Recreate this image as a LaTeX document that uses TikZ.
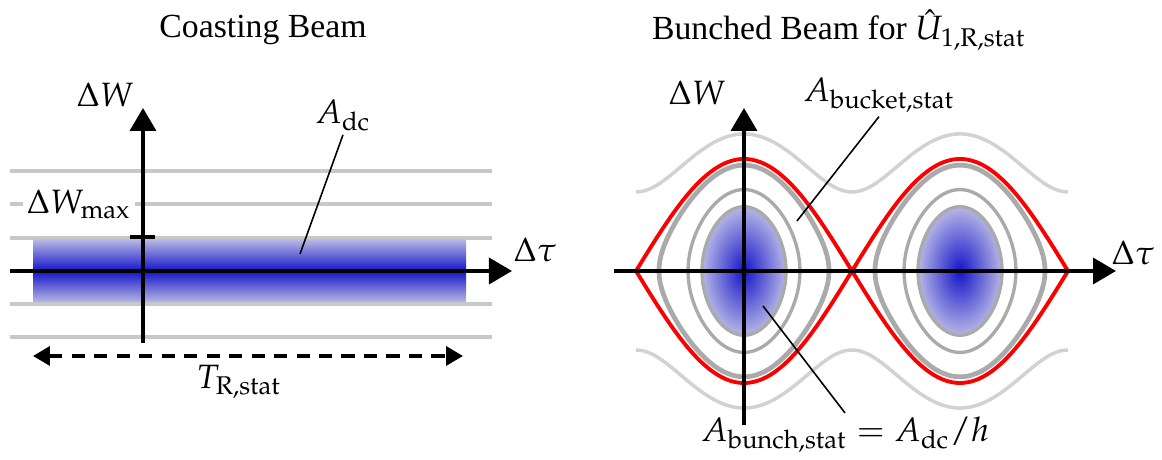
\documentclass[tikz,border=0pt]{standalone}
\usepackage{mathpazo}
\usepackage[no-math]{fontspec}
\newfontfamily\titlefont{Liberation Serif}
\usepackage{tikz}
\usetikzlibrary{arrows.meta}
\definecolor{BeamBlue}{RGB}{20,20,200}
\definecolor{BeamPale}{RGB}{182,182,230}
\definecolor{SepRed}{RGB}{250,0,0}
\definecolor{OrbitGray}{RGB}{170,170,170}
\definecolor{FlowGray}{RGB}{210,210,210}
\definecolor{LevelGray}{RGB}{200,200,200}
\tikzset{
  axis/.style={draw=black,line width=1.05pt,-{Triangle[length=0.23cm,width=0.26cm]}},
  level/.style={draw=LevelGray,line width=1pt},
  orbit/.style={draw=OrbitGray,line width=0.95pt,samples=120,domain=0:360,variable=\t},
  flow/.style={draw=FlowGray,line width=1pt,samples=160},
  sep/.style={draw=SepRed,line width=1.1pt,samples=200},
  lead/.style={draw=black,line width=0.45pt},
  lbl/.style={inner sep=1pt,font=\fontsize{9.6}{11}\selectfont},
  ttl/.style={inner sep=1pt,font=\fontsize{9.6}{11}\selectfont\titlefont},
}
\tikzset{bunch/.style={inner color=BeamBlue,outer color=BeamPale},
  band/.style={top color=BeamPale,bottom color=BeamPale,middle color=BeamBlue}}

\begin{document}
\begin{tikzpicture}[scale=1]
\useasboundingbox (0,0) rectangle (11.62,4.60);
% coasting beam
\node[ttl] (tcoast) at (2.63,4.30) {Coasting Beam};
\draw[level] (0.10,2.89) -- (4.92,2.89);
\draw[level] (0.10,2.56) -- (4.92,2.56);
\draw[level] (0.10,2.22) -- (4.92,2.22);
\draw[level] (0.10,1.56) -- (4.92,1.56);
\draw[level] (0.10,1.23) -- (4.92,1.23);
\shade[band] (0.33,1.58) rectangle (4.66,2.20);
\coordinate (lw0) at (1.43,1.17);
\coordinate (lw1) at (1.43,3.52);
\coordinate (lt0) at (0.10,1.89);
\coordinate (lt1) at (5.12,1.89);
\draw[axis] (lt0) -- (lt1);
\draw[axis] (lw0) -- (lw1);
\coordinate (tick0) at (1.30,2.23);
\coordinate (tick1) at (1.55,2.23);
\draw[line width=1.2pt] (tick0) -- (tick1);
\node[lbl] (lw) at (1.05,3.65) {$\Delta W$};
\node[lbl] (lt) at (5.35,2.10) {$\Delta\tau$};
\node[lbl,fill=white] (wmax) at (0.79,2.56) {$\Delta W_{\mathrm{max}}$};
\node[lbl] (adc) at (3.43,3.45) {$A_{\mathrm{dc}}$};
\coordinate (adcpt) at (3.00,2.06);
\draw[lead] (adc.south) -- (adcpt);
\coordinate (trev0) at (0.33,1.04);
\coordinate (trev1) at (4.63,1.04);
\draw[line width=1.05pt,dash pattern=on 3.8pt off 2.6pt,
  {Triangle[length=0.17cm,width=0.19cm]}-{Triangle[length=0.17cm,width=0.19cm]}] (trev0) -- (trev1);
\node[lbl] (trev) at (2.39,0.78) {$T_{\mathrm{R,stat}}$};
% bunched beam
\node[ttl] (tbunch) at (8.39,4.30) {Bunched Beam for $\hat{U}_{1,\mathrm{R,stat}}$};
\draw[flow,domain=6.36:10.68] plot (\x,{1.89+sqrt(1.2544*cos(180*(\x-7.44)/2.16)^2+0.6241)});
\draw[flow,domain=6.36:10.68] plot (\x,{1.89-sqrt(1.2544*cos(180*(\x-7.44)/2.16)^2+0.6241)});
\shade[bunch] plot[domain=0:360,samples=120,variable=\t] ({7.44+0.012*asin(0.574*sin(\t))},{1.89+1.12*0.574*cos(\t)});
\shade[bunch] plot[domain=0:360,samples=120,variable=\t] ({9.60+0.012*asin(0.574*sin(\t))},{1.89+1.12*0.574*cos(\t)});
\draw[orbit] plot ({7.44+0.012*asin(0.574*sin(\t))},{1.89+1.12*0.574*cos(\t)});
\draw[orbit] plot ({9.60+0.012*asin(0.574*sin(\t))},{1.89+1.12*0.574*cos(\t)});
\draw[orbit] plot ({7.44+0.012*asin(0.727*sin(\t))},{1.89+1.12*0.727*cos(\t)});
\draw[orbit] plot ({9.60+0.012*asin(0.727*sin(\t))},{1.89+1.12*0.727*cos(\t)});
\draw[orbit,line width=1.35pt] plot ({7.44+0.012*asin(0.945*sin(\t))},{1.89+1.12*0.945*cos(\t)});
\draw[orbit,line width=1.35pt] plot ({9.60+0.012*asin(0.945*sin(\t))},{1.89+1.12*0.945*cos(\t)});
\draw[sep,domain=6.36:10.68] plot (\x,{1.89+1.12*abs(cos(180*(\x-7.44)/2.16))});
\draw[sep,domain=6.36:10.68] plot (\x,{1.89-1.12*abs(cos(180*(\x-7.44)/2.16))});
\coordinate (rw0) at (7.44,0.35);
\coordinate (rw1) at (7.44,3.52);
\coordinate (rt0) at (6.14,1.89);
\coordinate (rt1) at (11.16,1.89);
\draw[axis] (rt0) -- (rt1);
\draw[axis] (rw0) -- (rw1);
\node[lbl] (rw) at (6.97,3.67) {$\Delta W$};
\node[lbl] (rt) at (11.33,2.07) {$\Delta\tau$};
\node[lbl] (abucket) at (8.79,3.65) {$A_{\mathrm{bucket,stat}}$};
\coordinate (abucketpt) at (7.97,2.39);
\draw[lead] (abucket.south) -- (abucketpt);
\node[lbl] (abunch) at (8.45,0.25) {$A_{\mathrm{bunch,stat}}=A_{\mathrm{dc}}/h$};
\coordinate (abunchpt) at (7.63,1.54);
\draw[lead] (abunch.north) -- (abunchpt);
\end{tikzpicture}
\end{document}
